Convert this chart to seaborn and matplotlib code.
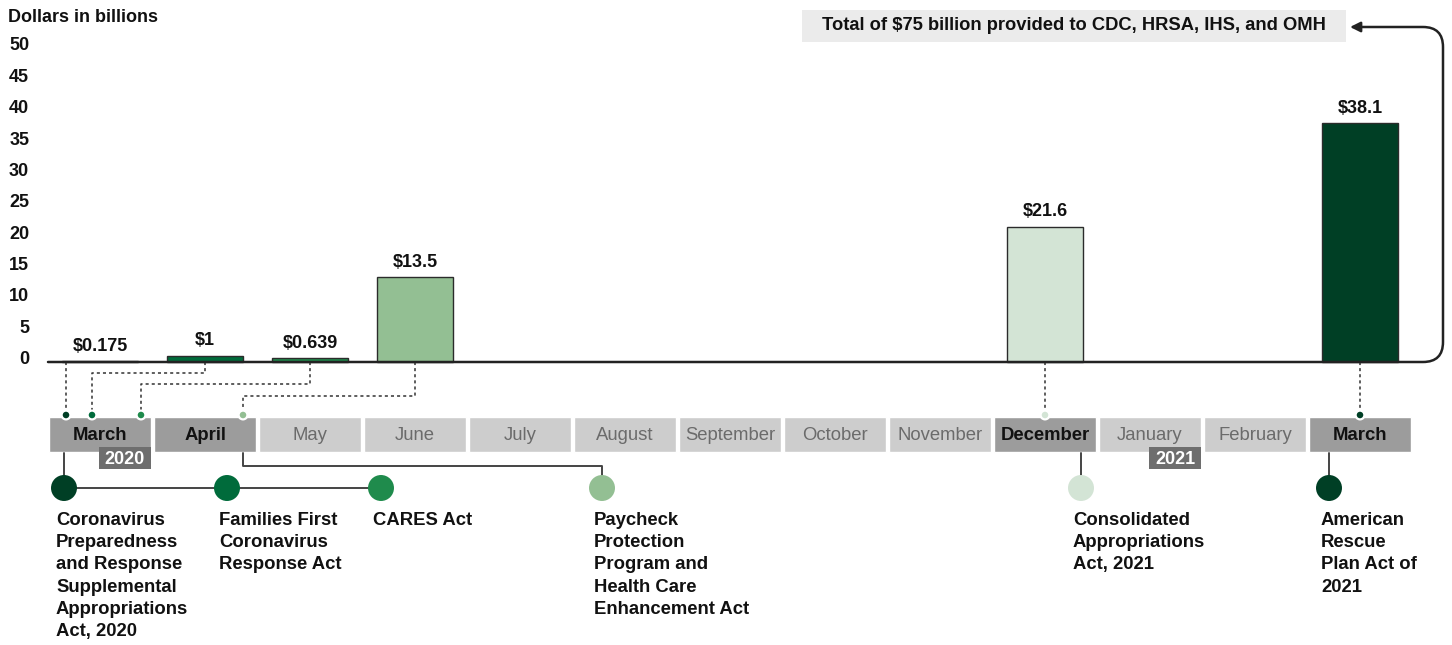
import pandas as pd
import matplotlib
matplotlib.use('Agg')
import matplotlib.pyplot as plt
import matplotlib.transforms as mtransforms
from matplotlib.path import Path
from matplotlib.patches import FancyArrowPatch, Rectangle
import seaborn as sns

# ---- data ----
months = ['March', 'April', 'May', 'June', 'July', 'August', 'September',
          'October', 'November', 'December', 'January', 'February', 'March']
month_years = [2020] * 10 + [2021] * 3
month_keys = [f'{m} {y}' for m, y in zip(months, month_years)]
highlight_months = ['March 2020', 'April 2020', 'December 2020', 'March 2021']
year_labels = ['2020', '2021']
year_months = ['March 2020', 'January 2021']

acts = ['Coronavirus\nPreparedness\nand Response\nSupplemental\nAppropriations\nAct, 2020',
        'Families First\nCoronavirus\nResponse Act',
        'CARES Act',
        'Paycheck\nProtection\nProgram and\nHealth Care\nEnhancement Act',
        'Consolidated\nAppropriations\nAct, 2021',
        'American\nRescue\nPlan Act of\n2021']
bar_months = ['March 2020', 'April 2020', 'May 2020', 'June 2020', 'December 2020', 'March 2021']
amounts = [0.175, 1, 0.639, 13.5, 21.6, 38.1]
amount_labels = ['$0.175', '$1', '$0.639', '$13.5', '$21.6', '$38.1']
act_colors = ['#003f25', '#006b3b', '#1f8b4c', '#93bf93', '#d3e4d5', '#003f25']
total_note = 'Total of $75 billion provided to CDC, HRSA, IHS, and OMH'

df = pd.DataFrame({'month': bar_months, 'amount': amounts, 'act': acts})

# ---- layout helpers (pixel -> data) ----
X0, DX, Y0, DY = 100, 105, 362, 6.27


def xp(p):
    return (p - X0) / DX


def yp(p):
    return (Y0 - p) / DY


# where each act's date dot sits on the month strip, and its node below
dot_x = [xp(66), xp(92), xp(141), xp(243), xp(1045), xp(1360)]
elbow_y = [None, 373, 384, 396, None, None]
node_x = [xp(64), xp(227), xp(381), xp(602), xp(1081), xp(1329)]

sns.set_theme(style='white')
plt.rcParams['font.family'] = ['Liberation Sans', 'DejaVu Sans']
plt.rcParams['font.weight'] = 'bold'

fig = plt.figure(figsize=(14.52, 6.45), dpi=100)
ax = fig.add_axes([0, 0, 1, 1])

palette = dict(zip(acts, act_colors))
sns.barplot(data=df, x='month', y='amount', hue='act', order=month_keys,
            hue_order=acts, palette=palette, dodge=False, width=0.72,
            saturation=1, edgecolor='#2b2b2b', linewidth=1, legend=False,
            ax=ax, zorder=3)

for m, v, lab in zip(bar_months, amounts, amount_labels):
    ax.annotate(lab, (month_keys.index(m), v), xytext=(0, 4.5),
                textcoords='offset points', ha='center', va='bottom',
                fontsize=13, fontweight='bold', color='#111111')

ax.set_xlim(xp(0), xp(1452))
ax.set_ylim(yp(645), yp(0))
ax.set_xticks([])
ax.set_yticks(range(0, 55, 5))
ax.tick_params(axis='y', length=0, pad=-21, labelsize=13, labelcolor='#111111')
shift = mtransforms.ScaledTranslation(0, 0.045, fig.dpi_scale_trans)
for t in ax.get_yticklabels():
    t.set_fontweight('bold')
    t.set_transform(t.get_transform() + shift)
ax.set_xlabel('')
ax.set_ylabel('')
for s in ax.spines.values():
    s.set_visible(False)

ax.text(xp(8), yp(17), 'Dollars in billions', fontsize=13, fontweight='bold',
        ha='left', va='center', color='#111111')

# baseline running into the arrow that points at the total
xr, yt = xp(1443), yp(27)
rx, ry = 20 / DX, 20 / DY
verts = [(xp(48), 0), (xr - rx, 0), (xr, 0), (xr, ry), (xr, yt - ry),
         (xr, yt), (xr - rx, yt), (xp(1350), yt)]
codes = [Path.MOVETO, Path.LINETO, Path.CURVE3, Path.CURVE3, Path.LINETO,
         Path.CURVE3, Path.CURVE3, Path.LINETO]
ax.add_patch(FancyArrowPatch(path=Path(verts, codes),
                             arrowstyle='-|>,head_length=6,head_width=3',
                             lw=1.8, color='#222222', zorder=4))

ax.add_patch(Rectangle((xp(802), yp(42)), xp(1346) - xp(802), yp(10) - yp(42),
                       facecolor='#ebebeb', edgecolor='none', zorder=2))
ax.text((xp(802) + xp(1346)) / 2, yp(26), total_note, fontsize=13.2,
        fontweight='bold', ha='center', va='center', color='#111111')

# month strip
box_top, box_bot = yp(417), yp(452)
box_colors = ['#9c9c9c' if k in highlight_months else '#cdcdcd' for k in month_keys]
ax.bar(range(len(month_keys)), box_top - box_bot, bottom=box_bot, width=0.971,
       color=box_colors, zorder=2)
for i, (m, k) in enumerate(zip(months, month_keys)):
    hl = k in highlight_months
    ax.text(i, yp(436), m, ha='center', va='center', fontsize=13.3,
            fontweight='bold' if hl else 'normal',
            color='#111111' if hl else '#6b6b6b', zorder=5)

for y, k in zip(year_labels, year_months):
    i = month_keys.index(k)
    ax.add_patch(Rectangle((i - 0.01, yp(469)), 0.496, yp(447) - yp(469),
                           facecolor='#6e6e6e', edgecolor='none', zorder=4))
    ax.text(i + 0.238, yp(459), y, ha='center', va='center', fontsize=13,
            fontweight='bold', color='white', zorder=5)

# dotted leaders from bars to the date dots
dot_y = yp(415)
for m, dx_, ey in zip(bar_months, dot_x, elbow_y):
    bx = month_keys.index(m)
    if ey is None:
        ax.plot([dx_, dx_], [0, dot_y], ls=(0, (2, 2)), color='#333333', lw=1.1, zorder=3)
    else:
        ax.plot([bx, bx, dx_, dx_], [0, yp(ey), yp(ey), dot_y],
                ls=(0, (2, 2)), color='#333333', lw=1.1, zorder=3)
ax.scatter(dot_x, [dot_y] * len(dot_x), s=40, c=act_colors, edgecolors='white',
           linewidths=1.6, zorder=6)

# lower timeline nodes
node_y = yp(488)
line_kw = dict(color='#444444', lw=1.4, zorder=3)
strip_bot = yp(453)
ax.plot([node_x[0], node_x[0]], [strip_bot, node_y], **line_kw)
ax.plot([node_x[0], node_x[2]], [node_y, node_y], **line_kw)
ax.plot([dot_x[3], dot_x[3], node_x[3], node_x[3]],
        [strip_bot, yp(466), yp(466), node_y], **line_kw)
for j in (4, 5):
    ax.plot([node_x[j], node_x[j]], [strip_bot, node_y], **line_kw)
ax.scatter(node_x, [node_y] * len(node_x), s=350, c=act_colors,
           edgecolors='none', zorder=6)

for nx, lab in zip(node_x, acts):
    ax.text(nx - 8 / DX, yp(512), lab, ha='left', va='top', fontsize=13.3,
            fontweight='bold', color='#111111', linespacing=1.4)

fig.savefig('out.png', dpi=100)
